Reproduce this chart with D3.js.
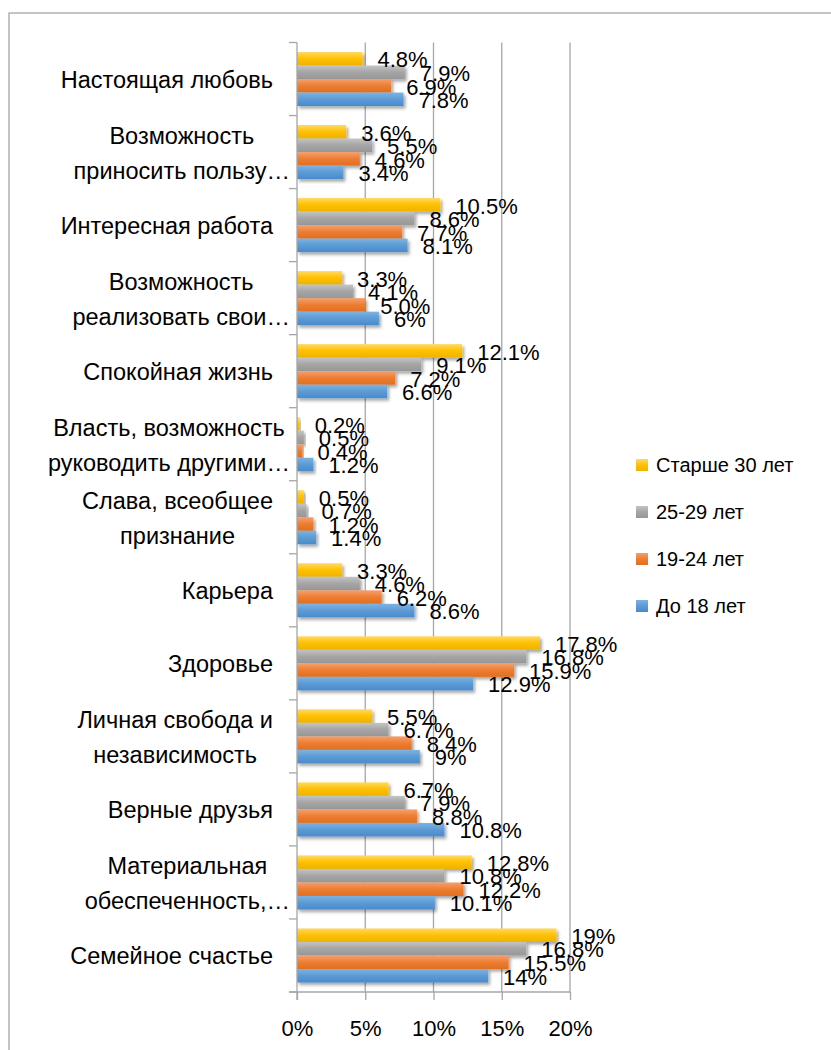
<!DOCTYPE html>
<html>
<head>
<meta charset="utf-8">
<script src="https://cdn.jsdelivr.net/npm/d3@7"></script>
<style>
  body { margin: 0; background: #fff; }
  text { font-family: "Liberation Sans", Arial, sans-serif; fill: #000; }
</style>
</head>
<body>
<script>
// categories, top to bottom
var categories = [
  ["Настоящая любовь"],
  ["Возможность", "приносить пользу…"],
  ["Интересная работа"],
  ["Возможность", "реализовать свои…"],
  ["Спокойная жизнь"],
  ["Власть, возможность", "руководить другими…"],
  ["Слава, всеобщее", "признание"],
  ["Карьера"],
  ["Здоровье"],
  ["Личная свобода и", "независимость"],
  ["Верные друзья"],
  ["Материальная", "обеспеченность,…"],
  ["Семейное счастье"]
];
var seriesNames = ["Старше 30 лет", "25-29 лет", "19-24 лет", "До 18 лет"];
// values as shown in the data labels (%)
var over30  = ["4.8", "3.6", "10.5", "3.3", "12.1", "0.2", "0.5", "3.3", "17.8", "5.5", "6.7", "12.8", "19"];
var age2529 = ["7.9", "5.5", "8.6", "4.1", "9.1", "0.5", "0.7", "4.6", "16.8", "6.7", "7.9", "10.8", "16.8"];
var age1924 = ["6.9", "4.6", "7.7", "5.0", "7.2", "0.4", "1.2", "6.2", "15.9", "8.4", "8.8", "12.2", "15.5"];
var under18 = ["7.8", "3.4", "8.1", "6", "6.6", "1.2", "1.4", "8.6", "12.9", "9", "10.8", "10.1", "14"];
var seriesValues = [over30, age2529, age1924, under18];
var xTicks = [0, 5, 10, 15, 20];
var colors = ["#FFC000", "#A5A5A5", "#ED7D31", "#5B9BD5"];
var lightColors = ["#FFD966", "#C4C4C4", "#F4A070", "#7FB2E0"];
var darkColors = ["#EDB300", "#979797", "#E06F22", "#4A8ACB"];

var W = 831, H = 1050;
var svg = d3.select("body").append("svg").attr("width", W).attr("height", H);

var defs = svg.append("defs");
var shadow = defs.append("filter").attr("id", "shadow")
  .attr("x", "-10%").attr("y", "-30%").attr("width", "130%").attr("height", "180%");
shadow.append("feDropShadow").attr("dx", 2).attr("dy", 2.5)
  .attr("stdDeviation", 1.6).attr("flood-color", "#000").attr("flood-opacity", 0.35);
colors.forEach(function(c, i) {
  var g = defs.append("linearGradient").attr("id", "grad" + i)
    .attr("x1", 0).attr("y1", 0).attr("x2", 0).attr("y2", 1);
  g.append("stop").attr("offset", "0%").attr("stop-color", lightColors[i]);
  g.append("stop").attr("offset", "50%").attr("stop-color", colors[i]);
  g.append("stop").attr("offset", "100%").attr("stop-color", darkColors[i]);
});

// outer border
svg.append("rect").attr("x", 9).attr("y", 13).attr("width", 840).attr("height", 1060)
  .attr("fill", "none").attr("stroke", "#A6A6A6").attr("stroke-width", 1.3);

var plotLeft = 297, plotRight = 570, plotTop = 42.5, plotBottom = 992;
var x = d3.scaleLinear().domain([0, 20]).range([plotLeft, plotRight]);
var y = d3.scaleBand().domain(d3.range(categories.length)).range([plotTop, plotBottom]);
var ySub = d3.scaleBand().domain(d3.range(seriesNames.length))
  .range([0, y.bandwidth()]).paddingOuter(0.7).paddingInner(0);

// vertical gridlines
svg.append("g").selectAll("line").data(xTicks.slice(1)).enter().append("line")
  .attr("x1", function(d) { return x(d); }).attr("x2", function(d) { return x(d); })
  .attr("y1", plotTop).attr("y2", plotBottom)
  .attr("stroke", "#A6A6A6").attr("stroke-width", 1.3);

// bars
var groups = svg.append("g").selectAll("g").data(categories).enter().append("g")
  .attr("transform", function(d, i) { return "translate(0," + y(i) + ")"; });

groups.each(function(cat, ci) {
  var g = d3.select(this);
  seriesValues.forEach(function(vals, si) {
    var v = +vals[ci];
    g.append("rect")
      .attr("x", x(0)).attr("y", ySub(si))
      .attr("width", x(v) - x(0)).attr("height", ySub.bandwidth())
      .attr("fill", "url(#grad" + si + ")")
      .attr("filter", "url(#shadow)");
  });
});

// axes
var yAxis = svg.append("g");
yAxis.append("line").attr("x1", plotLeft).attr("x2", plotLeft)
  .attr("y1", plotTop).attr("y2", plotBottom + 8)
  .attr("stroke", "#A6A6A6").attr("stroke-width", 1.3);
yAxis.selectAll(".tk").data(d3.range(categories.length + 1)).enter().append("line")
  .attr("x1", plotLeft - 8).attr("x2", plotLeft)
  .attr("y1", function(d) { return plotTop + d * y.step(); })
  .attr("y2", function(d) { return plotTop + d * y.step(); })
  .attr("stroke", "#A6A6A6").attr("stroke-width", 1.3);

var xAxis = svg.append("g").attr("transform", "translate(0," + plotBottom + ")")
  .call(d3.axisBottom(x).tickValues(xTicks).tickSize(8).tickPadding(20)
    .tickFormat(function(d) { return d + "%"; }));
xAxis.select(".domain").attr("stroke", "#A6A6A6").attr("stroke-width", 1.3)
  .attr("d", "M" + (plotLeft - 8) + ",0H" + plotRight);
xAxis.selectAll(".tick line").attr("stroke", "#A6A6A6").attr("stroke-width", 1.3);
xAxis.selectAll(".tick text").attr("font-size", 22).attr("fill", "#000")
  .style("font-family", "Liberation Sans, Arial, sans-serif");

// data labels
groups.each(function(cat, ci) {
  var g = d3.select(this);
  seriesValues.forEach(function(vals, si) {
    g.append("text")
      .attr("x", x(+vals[ci]) + 15)
      .attr("y", ySub(si) + ySub.bandwidth() + 2)
      .attr("font-size", 22)
      .text(vals[ci] + "%");
  });
});

// category labels
groups.each(function(cat, ci) {
  var g = d3.select(this);
  var lineGap = 35;
  var cy = y.bandwidth() / 2 + 9;
  var texts = cat.map(function(line, li) {
    return g.append("text")
      .attr("font-size", 23.5)
      .attr("text-anchor", "middle")
      .attr("y", cy + (li - (cat.length - 1) / 2) * lineGap)
      .text(line);
  });
  var maxW = d3.max(texts, function(t) { return t.node().getComputedTextLength(); });
  var right = cat.some(function(l) { return l.indexOf("…") >= 0; }) ? 290 : 273;
  texts.forEach(function(t) { t.attr("x", right - maxW / 2); });
});

// legend
var legend = svg.append("g").selectAll("g").data(seriesNames).enter().append("g")
  .attr("transform", function(d, i) { return "translate(636," + (465 + i * 47) + ")"; });
legend.append("rect").attr("x", 0).attr("y", -6).attr("width", 12).attr("height", 12)
  .attr("fill", function(d, i) { return "url(#grad" + i + ")"; });
legend.append("text").attr("x", 20).attr("y", 7).attr("font-size", 20)
  .text(function(d) { return d; });
</script>
</body>
</html>
